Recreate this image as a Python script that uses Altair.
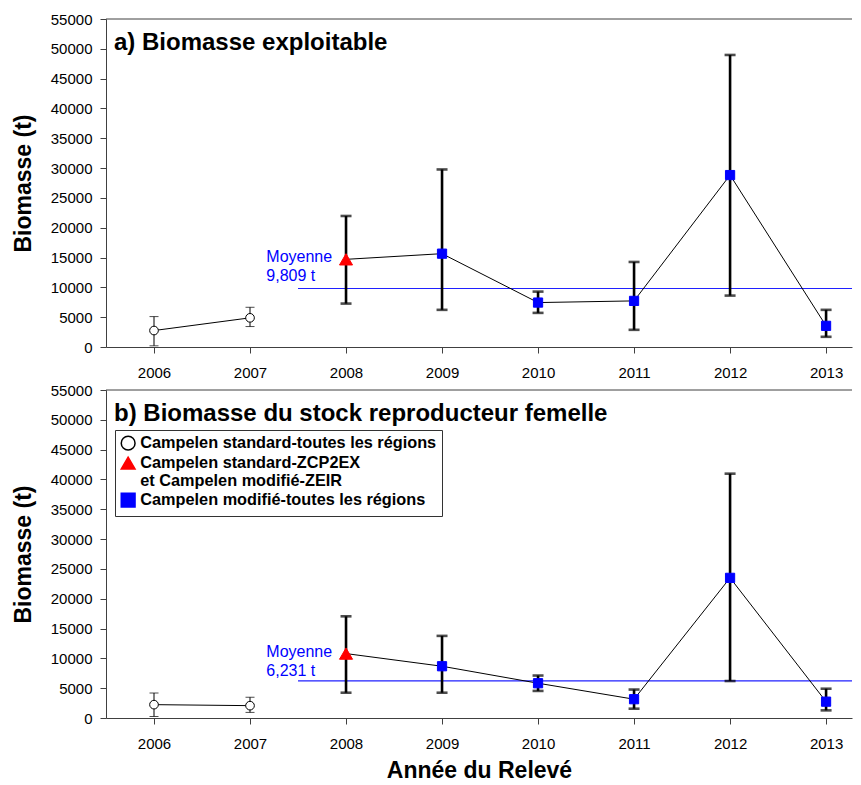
import altair as alt
import pandas as pd

FONT = "Liberation Sans"

years = [2006, 2007, 2008, 2009, 2010, 2011, 2012, 2013]
LAB_STD = "Campelen standard-toutes les régions"
LAB_ZCP = "Campelen standard-ZCP2EX\net Campelen modifié-ZEIR"
LAB_MOD = "Campelen modifié-toutes les régions"
series_order = [LAB_STD, LAB_ZCP, LAB_MOD]
series = [LAB_STD, LAB_STD, LAB_ZCP, LAB_MOD, LAB_MOD, LAB_MOD, LAB_MOD, LAB_MOD]
segment = ["a", "a", "b", "b", "b", "b", "b", "b"]

# a) Biomasse exploitable
expl_val = [2760, 4890, 14700, 15650, 7450, 7730, 28830, 3550]
expl_lo = [200, 3430, 7280, 6230, 5720, 2880, 8620, 1710]
expl_hi = [5100, 6660, 21970, 29770, 9290, 14260, 48970, 6230]
expl_mean = 9809

# b) Biomasse du stock reproducteur femelle
ssb_val = [2240, 2070, 10800, 8680, 5830, 3150, 23500, 2740]
ssb_lo = [250, 940, 4240, 4240, 4540, 1560, 6200, 1280]
ssb_hi = [4190, 3480, 17050, 13770, 7120, 4770, 40970, 4910]
ssb_mean = 6231

mean_start = 2007.5
x_domain = [2005.5, 2013.27]
y_top = 55000
y_ticks = list(range(0, 55001, 5000))

titles = ["a) Biomasse exploitable", "b) Biomasse du stock reproducteur femelle"]
mean_texts = ["Moyenne\n9,809 t", "Moyenne\n6,231 t"]
mean_label_x = 2007.17
mean_label_y = [16490, 12450]

W, H = 746, 328


def panel(vals, lo, hi, mean, title, mtext, mlabel_y, legend, xtitle):
    df = pd.DataFrame({"year": years, "val": vals, "lo": lo, "hi": hi,
                       "series": series, "segment": segment})
    xscale = alt.Scale(domain=x_domain, nice=False, zero=False)
    xaxis = alt.Axis(values=years, format="d", grid=False, tickSize=6,
                     labelPadding=12, labelFontSize=15, labelFont=FONT,
                     labelColor="black", domainColor="#404040",
                     tickColor="#404040", labelOverlap=False,
                     title=xtitle if xtitle else "",
                     titleFont=FONT, titleFontSize=23, titleFontWeight="bold",
                     titleColor="black", titlePadding=8)
    yscale = alt.Scale(domain=[0, y_top], nice=False, zero=True)
    yaxis = alt.Axis(values=y_ticks, format="d", grid=False, tickSize=6,
                     labelPadding=8, labelFontSize=15, labelFont=FONT,
                     labelColor="black", domainColor="#404040",
                     tickColor="#404040", labelOverlap=False, labelFlush=False,
                     title="Biomasse (t)",
                     titleFont=FONT, titleFontSize=23, titleFontWeight="bold",
                     titleColor="black", titlePadding=15)

    def X(f):
        return alt.X(f, type="quantitative", scale=xscale, axis=xaxis)

    def Y(f):
        return alt.Y(f, type="quantitative", scale=yscale, axis=yaxis)

    base = alt.Chart(df)
    thin = alt.FieldEqualPredicate(field="series", equal=LAB_STD)
    thick = alt.FieldOneOfPredicate(field="series", oneOf=[LAB_ZCP, LAB_MOD])

    bars_thin = base.transform_filter(thin).mark_rule(color="black", strokeWidth=1).encode(
        x=X("year"), y=Y("lo"), y2="hi:Q")
    caps_thin = base.transform_filter(thin).transform_fold(["lo", "hi"], as_=["k", "v"]).mark_tick(
        orient="horizontal", color="black", size=9, thickness=1).encode(x=X("year"), y=Y("v"))
    bars_thick = base.transform_filter(thick).mark_rule(color="black", strokeWidth=2.6).encode(
        x=X("year"), y=Y("lo"), y2="hi:Q")
    caps_thick = base.transform_filter(thick).transform_fold(["lo", "hi"], as_=["k", "v"]).mark_tick(
        orient="horizontal", color="black", size=11, thickness=2.6).encode(x=X("year"), y=Y("v"))

    line = base.mark_line(color="black", strokeWidth=1).encode(
        x=X("year"), y=Y("val"), detail="segment:N")

    if legend:
        leg = alt.Legend(title=None, orient="none", legendX=9, legendY=40,
                         labelFont=FONT, labelFontSize=16.3, labelFontWeight="bold",
                         labelColor="black", strokeColor="#333333", fillColor="white",
                         padding=5, symbolSize=190, rowPadding=0,
                         labelLimit=500, labelOffset=4,
                         labelExpr="split(datum.label, '\\n')")
    else:
        leg = None
    size_rule = (alt.when(alt.FieldEqualPredicate(field="series", equal=LAB_ZCP))
                 .then(alt.value(170))
                 .when(alt.FieldEqualPredicate(field="series", equal=LAB_STD))
                 .then(alt.value(75))
                 .otherwise(alt.value(85)))
    pts = base.mark_point(filled=True, opacity=1, strokeWidth=1).encode(
        x=X("year"), y=Y("val"),
        fill=alt.Fill("series:N", scale=alt.Scale(domain=series_order,
                                                  range=["white", "#ff0000", "#0000ff"]),
                      legend=leg),
        stroke=alt.Stroke("series:N", scale=alt.Scale(domain=series_order,
                                                      range=["black", "#ff0000", "#0000ff"]),
                          legend=leg),
        shape=alt.Shape("series:N", scale=alt.Scale(domain=series_order,
                                                    range=["circle", "triangle-up", "square"]),
                        legend=leg),
        size=size_rule,
    )

    mdf = pd.DataFrame({"x1": [mean_start], "x2": [x_domain[1]], "m": [mean],
                        "lx": [mean_label_x], "ly": [mlabel_y], "t": [mtext],
                        "top": [y_top]})
    mrule = alt.Chart(mdf).mark_rule(color="#2020ff", strokeWidth=1.2).encode(
        x=X("x1"), x2="x2:Q", y=Y("m"))
    mlab = alt.Chart(mdf).mark_text(color="#0000ff", font=FONT, fontSize=16, align="left",
                                    baseline="top", lineBreak="\n", lineHeight=19.5).encode(
        x=X("lx"), y=Y("ly"), text="t:N")

    topline = alt.Chart(mdf).mark_rule(color="#404040", strokeWidth=1).encode(y=Y("top"))

    ttl = alt.Chart(mdf).mark_text(font=FONT, fontSize=24, fontWeight="bold", color="black",
                                   align="left", baseline="top").encode(
        x=alt.value(8), y=alt.value(12), text=alt.datum(title))

    return alt.layer(topline, mrule, bars_thin, caps_thin, bars_thick, caps_thick,
                     line, pts, mlab, ttl).properties(width=W, height=H)


top = panel(expl_val, expl_lo, expl_hi, expl_mean, titles[0], mean_texts[0],
            mean_label_y[0], legend=False, xtitle=None)
bottom = panel(ssb_val, ssb_lo, ssb_hi, ssb_mean, titles[1], mean_texts[1],
               mean_label_y[1], legend=True, xtitle="Année du Relevé")

chart = alt.vconcat(top, bottom, spacing=3).resolve_scale(
    fill="independent", stroke="independent", shape="independent"
).properties(padding={"left": 4, "top": 4, "right": 0, "bottom": 0}).configure_view(stroke=None)

chart.save("out.html", embed_options={"renderer": "svg", "actions": False})
